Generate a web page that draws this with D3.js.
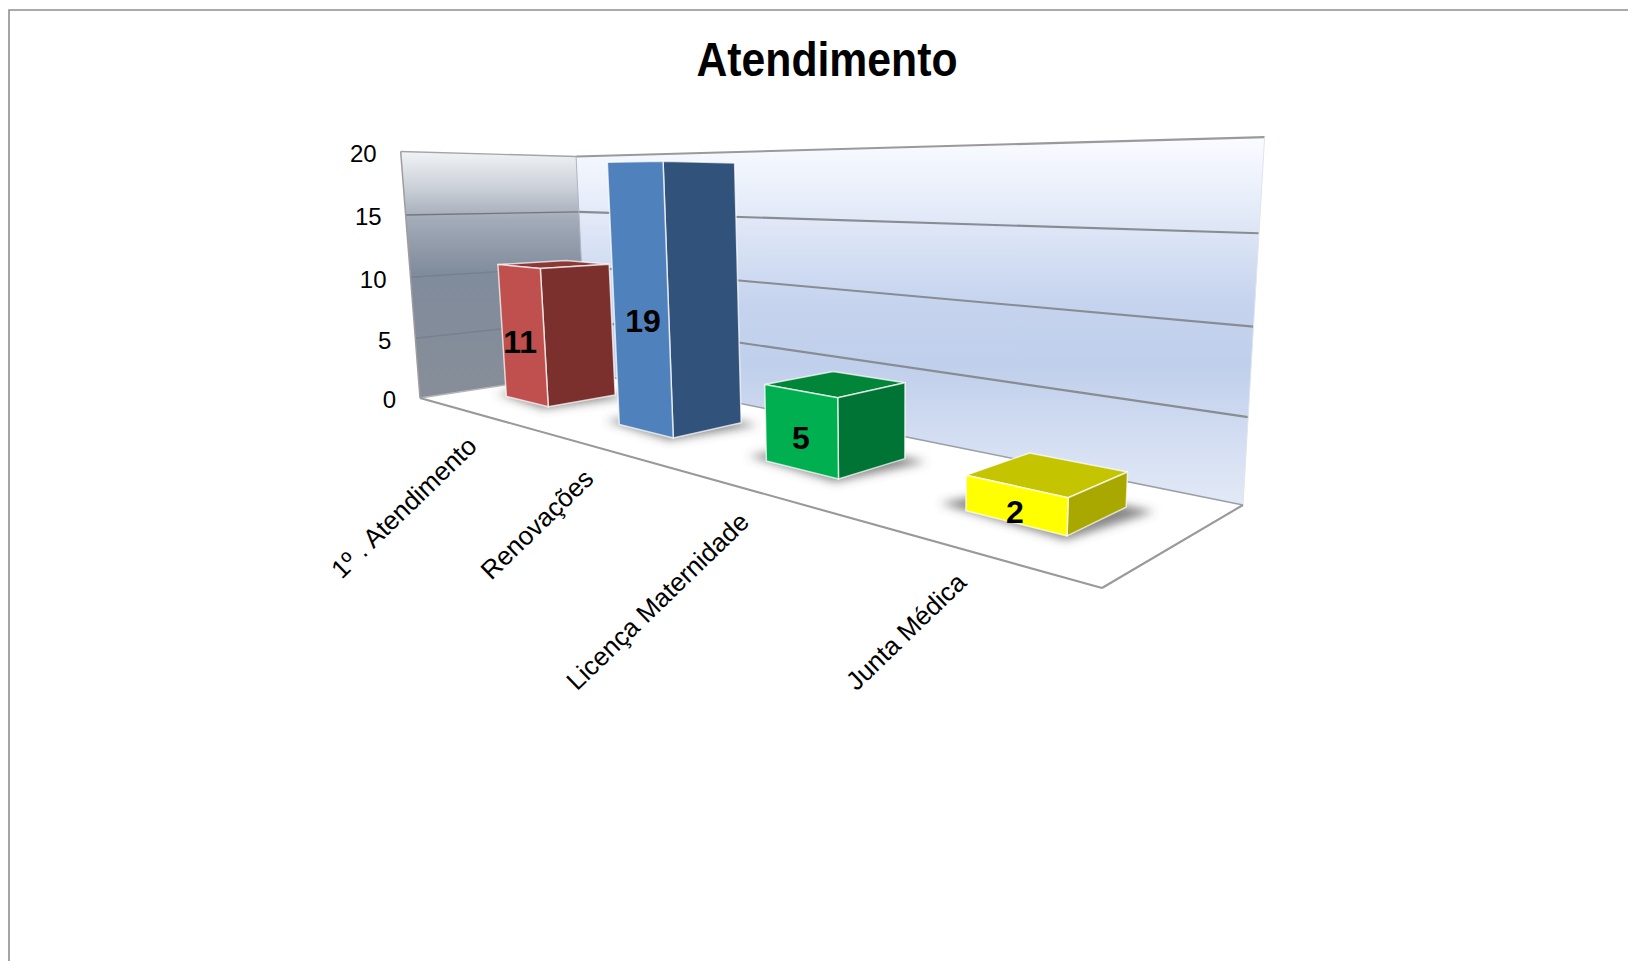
<!DOCTYPE html>
<html lang="pt">
<head>
<meta charset="utf-8">
<title>Atendimento</title>
<script src="https://cdn.jsdelivr.net/npm/d3@7"></script>
<style>
html,body{margin:0;padding:0;background:#fff;overflow:hidden}
svg{display:block}
text{font-family:"Liberation Sans",Arial,sans-serif;fill:#000}
</style>
</head>
<body>
<svg id="chart" width="1628" height="961"></svg>
<script>
const chartTitle = "Atendimento";
const categories = ["1º . Atendimento", "Renovações", "Licença Maternidade", "Junta Médica"];
const values = [11, 19, 5, 2];
const tickValues = [0, 5, 10, 15, 20];

const frontColors = ["#C0504D", "#4F81BD", "#00B050", "#FFFF00"];
const sideColors  = ["#7B302E", "#31527A", "#007434", "#A8A800"];
const topColors   = ["#8C3836", "#3A6190", "#008539", "#C4C400"];

// Where each value label sits on its bar's front face (share of bar height, x nudge)
const labelHeightShare = [0.45, 0.42, 0.41, 0.30];
const labelNudgeX = [-3, 2, 0, 0];

// Camera: floor corners on screen, plus the vertical vanishing point and its weight
const floorQuad = [[420,398],[1102,588],[1243,505],[587,372.5]];
const verticalVanish = [894,6441];
const verticalWeight = -0.0392;

function quadMap(q){
  const [[x0,y0],[x1,y1],[x2,y2],[x3,y3]] = q;
  const dx1=x1-x2, dx2=x3-x2, sx=x0-x1+x2-x3;
  const dy1=y1-y2, dy2=y3-y2, sy=y0-y1+y2-y3;
  const den=dx1*dy2-dx2*dy1;
  const g=(sx*dy2-dx2*sy)/den, h=(dx1*sy-sx*dy1)/den;
  const a=x1-x0+g*x1, b=x3-x0+h*x3, c=x0;
  const d=y1-y0+g*y1, e=y3-y0+h*y3, f=y0;
  return (u,v)=>[a*u+b*v+c, d*u+e*v+f, g*u+h*v+1];
}
const floorMap = quadMap(floorQuad);

const yScale = d3.scaleLinear().domain([0,20]).range([0,1]);
const xScale = d3.scaleBand().domain(categories).range([0,1]).paddingInner(0.6).paddingOuter(0.3);
const depthScale = d3.scaleLinear().domain([0,1]).range([0.315,0.71]);

function project(u,v,val){
  const [X,Y,W]=floorMap(u,v), s=yScale(val)*verticalWeight;
  const w=W+s;
  return [(X+s*verticalVanish[0])/w,(Y+s*verticalVanish[1])/w];
}
const poly = pts => pts.map(p=>p[0].toFixed(2)+","+p[1].toFixed(2)).join(" ");
const lineGen = d3.line();

const svg = d3.select("#chart");
const defs = svg.append("defs");

const backGrad = defs.append("linearGradient").attr("id","backWall")
  .attr("gradientUnits","userSpaceOnUse").attr("x1",0).attr("x2",0).attr("y1",140).attr("y2",505);
[[0,"#f9fbff"],[0.2,"#e3eaf8"],[0.45,"#c5d3ee"],[0.62,"#c0cfeb"],[0.85,"#d6e0f3"],[1,"#e2e9f6"]]
  .forEach(s=>backGrad.append("stop").attr("offset",s[0]).attr("stop-color",s[1]));
const leftGrad = defs.append("linearGradient").attr("id","leftWall")
  .attr("gradientUnits","userSpaceOnUse").attr("x1",0).attr("x2",0).attr("y1",150).attr("y2",398);
[[0,"#f2f4f7"],[0.15,"#ccd1d8"],[0.28,"#a3abb8"],[0.5,"#808b9c"],[1,"#878e99"]]
  .forEach(s=>leftGrad.append("stop").attr("offset",s[0]).attr("stop-color",s[1]));
defs.append("filter").attr("id","soft").attr("x","-30%").attr("y","-50%").attr("width","160%").attr("height","200%")
  .append("feGaussianBlur").attr("stdDeviation",5);

// Page frame
svg.append("path").attr("d","M9,961V10H1628").attr("fill","none").attr("stroke","#8f8f8f").attr("stroke-width",1.6);

// Title
svg.append("text").attr("x",827).attr("y",76).attr("text-anchor","middle")
  .attr("font-size",48).attr("font-weight","bold")
  .attr("textLength",261).attr("lengthAdjust","spacingAndGlyphs").text(chartTitle);

// Walls and floor
const yMax = yScale.domain()[1];
svg.append("polygon").attr("points",poly([project(0,1,0),project(1,1,0),project(1,1,yMax),project(0,1,yMax)]))
  .attr("fill","url(#backWall)");
svg.append("polygon").attr("points",poly([project(0,0,0),project(0,1,0),project(0,1,yMax),project(0,0,yMax)]))
  .attr("fill","url(#leftWall)");
svg.append("polygon").attr("points",poly([project(0,0,0),project(1,0,0),project(1,1,0),project(0,1,0)]))
  .attr("fill","#ffffff");

// Grid lines
const grid = tickValues.filter(t=>t>0);
svg.append("g").selectAll("path").data(grid).join("path")
  .attr("d",t=>lineGen([project(0,1,t),project(1,1,t)]))
  .attr("fill","none").attr("stroke",t=>t===yMax?"#9a9a9a":"#888c93").attr("stroke-width",2.1);
svg.append("g").selectAll("path").data(grid).join("path")
  .attr("d",t=>lineGen([project(0,0,t),project(0,1,t)]))
  .attr("fill","none").attr("stroke",t=>t===yMax?"#a5a5a5":"#6f7784")
  .attr("stroke-opacity",t=>t>=15?1:0.55).attr("stroke-width",1.4);

// Wall and floor edges
const edge=(a,b,w,c)=>svg.append("path").attr("d",lineGen([a,b])).attr("fill","none").attr("stroke",c).attr("stroke-width",w);
edge(project(0,0,0),project(0,0,yMax),1.5,"#9d9d9d");
edge(project(0,1,0),project(0,1,yMax),1,"#aeb5c0");
edge(project(1,1,0),project(1,1,yMax),1,"#dfe4ec");
edge(project(0,0,0),project(0,1,0),1.4,"#b5b5b5");
edge(project(0,1,0),project(1,1,0),1.6,"#9aa0a8");
edge(project(0,0,0),project(1,0,0),2.1,"#999999");
edge(project(1,0,0),project(1,1,0),2.1,"#999999");

// Bars
const barData = categories.map((c,i)=>({cat:c,val:values[i],i,
  u0:xScale(c),u1:xScale(c)+xScale.bandwidth(),v0:depthScale(0),v1:depthScale(1)}));

const bars = svg.append("g").selectAll("g").data(barData).join("g");
bars.append("polygon").attr("filter","url(#soft)").attr("fill","#4d4d4d").attr("fill-opacity",0.68)
  .attr("points",d=>poly([project(d.u0-0.03,d.v0+0.01,0),project(d.u1+0.004,d.v0-0.035,0),
                          project(d.u1+0.024,d.v1+0.02,0),project(d.u0,d.v1,0)]));
const edgeStroke = "rgba(255,255,255,0.72)";
bars.append("polygon").attr("fill",d=>topColors[d.i]).attr("stroke",edgeStroke).attr("stroke-width",1.5).attr("stroke-linejoin","round")
  .attr("points",d=>poly([project(d.u0,d.v0,d.val),project(d.u1,d.v0,d.val),project(d.u1,d.v1,d.val),project(d.u0,d.v1,d.val)]));
bars.append("polygon").attr("fill",d=>sideColors[d.i]).attr("stroke",edgeStroke).attr("stroke-width",1.5).attr("stroke-linejoin","round")
  .attr("points",d=>poly([project(d.u1,d.v0,0),project(d.u1,d.v1,0),project(d.u1,d.v1,d.val),project(d.u1,d.v0,d.val)]));
bars.append("polygon").attr("fill",d=>frontColors[d.i]).attr("stroke",edgeStroke).attr("stroke-width",1.5).attr("stroke-linejoin","round")
  .attr("points",d=>poly([project(d.u0,d.v0,0),project(d.u1,d.v0,0),project(d.u1,d.v0,d.val),project(d.u0,d.v0,d.val)]));

// Value labels
svg.append("g").selectAll("text").data(barData).join("text")
  .attr("font-size",32).attr("font-weight","bold").attr("text-anchor","middle").attr("dy","0.35em")
  .attr("transform",d=>{const p=project((d.u0+d.u1)/2,d.v0,d.val*labelHeightShare[d.i]);return `translate(${p[0]+labelNudgeX[d.i]},${p[1]})`;})
  .text(d=>d.val);

// Value-axis labels
svg.append("g").selectAll("text").data(tickValues).join("text")
  .attr("font-size",24).attr("text-anchor","end").attr("dy","0.35em")
  .attr("x",t=>project(0,0,t)[0]-24).attr("y",t=>project(0,0,t)[1]+2)
  .text(t=>t);

// Category labels
svg.append("g").selectAll("text").data(categories).join("text")
  .attr("font-size",26).attr("text-anchor","end").attr("dy","0.35em")
  .attr("transform",c=>{const p=project(xScale(c)+xScale.bandwidth()/2,0,0);return `translate(${p[0]+4},${p[1]+30}) rotate(-44)`;})
  .text(c=>c);
</script>
</body>
</html>
